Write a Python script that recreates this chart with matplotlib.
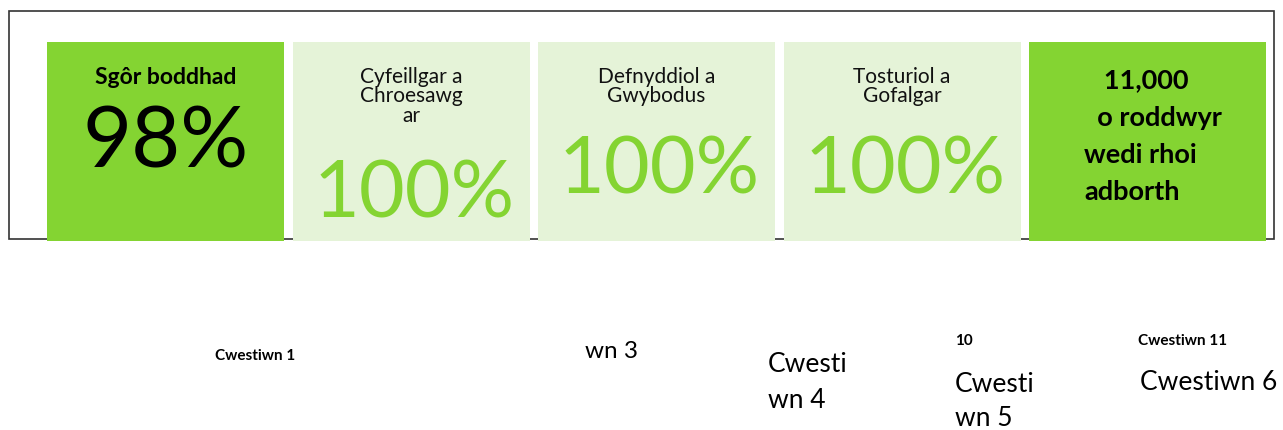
import matplotlib
matplotlib.use("Agg")
import matplotlib.pyplot as plt
from matplotlib.patches import Rectangle

plt.rcParams['font.family'] = ['Lato', 'DejaVu Sans']

# ---- data ----
card_titles = ["Sgôr boddhad", "Cyfeillgar a\nChroesawg\nar", "Defnyddiol a\nGwybodus",
               "Tosturiol a\nGofalgar", "   11,000\n  o roddwyr\nwedi rhoi\nadborth"]
card_values = ["98%", "100%", "100%", "100%", ""]
card_kind = ["dark", "light", "light", "light", "dark"]
bottom_labels = ["Cwestiwn 1", "wn 3", "Cwesti\nwn 4", "10", "Cwesti\nwn 5", "Cwestiwn 11", "Cwestiwn 6"]

DARK = "#84d432"
LIGHT = "#e5f3d8"

W, H = 1283, 430
fig = plt.figure(figsize=(W / 100, H / 100), dpi=100)
ax = fig.add_axes([0, 0, 1, 1])
ax.set_xlim(0, W)
ax.set_ylim(H, 0)
ax.axis("off")

# outer frame
ax.add_patch(Rectangle((9, 11), 1265, 228, fill=False, edgecolor="#333333", lw=1.2))

x0, cw, gap = 47, 237, 8.5
top, ch = 42, 199
for i, (t, v, k) in enumerate(zip(card_titles, card_values, card_kind)):
    x = x0 + i * (cw + gap)
    ax.add_patch(Rectangle((x, top), cw, ch, facecolor=DARK if k == "dark" else LIGHT,
                           edgecolor="none", zorder=2))
    cx = x + cw / 2
    lines = t.split("\n")
    if i == 0:
        ax.text(cx, 78, t, ha="center", va="center", fontsize=16.5, fontweight="bold", zorder=3)
        ax.text(cx, 144, v, ha="center", va="center", fontsize=61, color="black", zorder=3)
    elif k == "light":
        for j, ln in enumerate(lines):
            ax.text(cx, 77 + j * 19.5, ln, ha="center", va="center", fontsize=15,
                    zorder=3, color="#111111")
        vy = 196 if len(lines) >= 3 else 171
        ax.text(cx + 3, vy, v, ha="center", va="center", fontsize=57, color=DARK, zorder=3)
    else:
        for j, ln in enumerate(lines):
            ax.text(x + 55, 80 + j * 37.5, ln, ha="left", va="center", fontsize=19.5,
                    fontweight="bold", zorder=3)

# stray labels below
ax.text(255, 356, bottom_labels[0], ha="center", va="center", fontsize=11, fontweight="bold")
ax.text(585, 352, bottom_labels[1], ha="left", va="center", fontsize=17.5)
for j, ln in enumerate(bottom_labels[2].split("\n")):
    ax.text(768, 365 + j * 35, ln, ha="left", va="center", fontsize=19)
ax.text(955, 341, bottom_labels[3], ha="left", va="center", fontsize=11, fontweight="bold")
for j, ln in enumerate(bottom_labels[4].split("\n")):
    ax.text(955, 384 + j * 34, ln, ha="left", va="center", fontsize=19)
ax.text(1183, 341, bottom_labels[5], ha="center", va="center", fontsize=11, fontweight="bold")
ax.text(1140, 383, bottom_labels[6], ha="left", va="center", fontsize=19)

fig.savefig("out.png", dpi=100)
